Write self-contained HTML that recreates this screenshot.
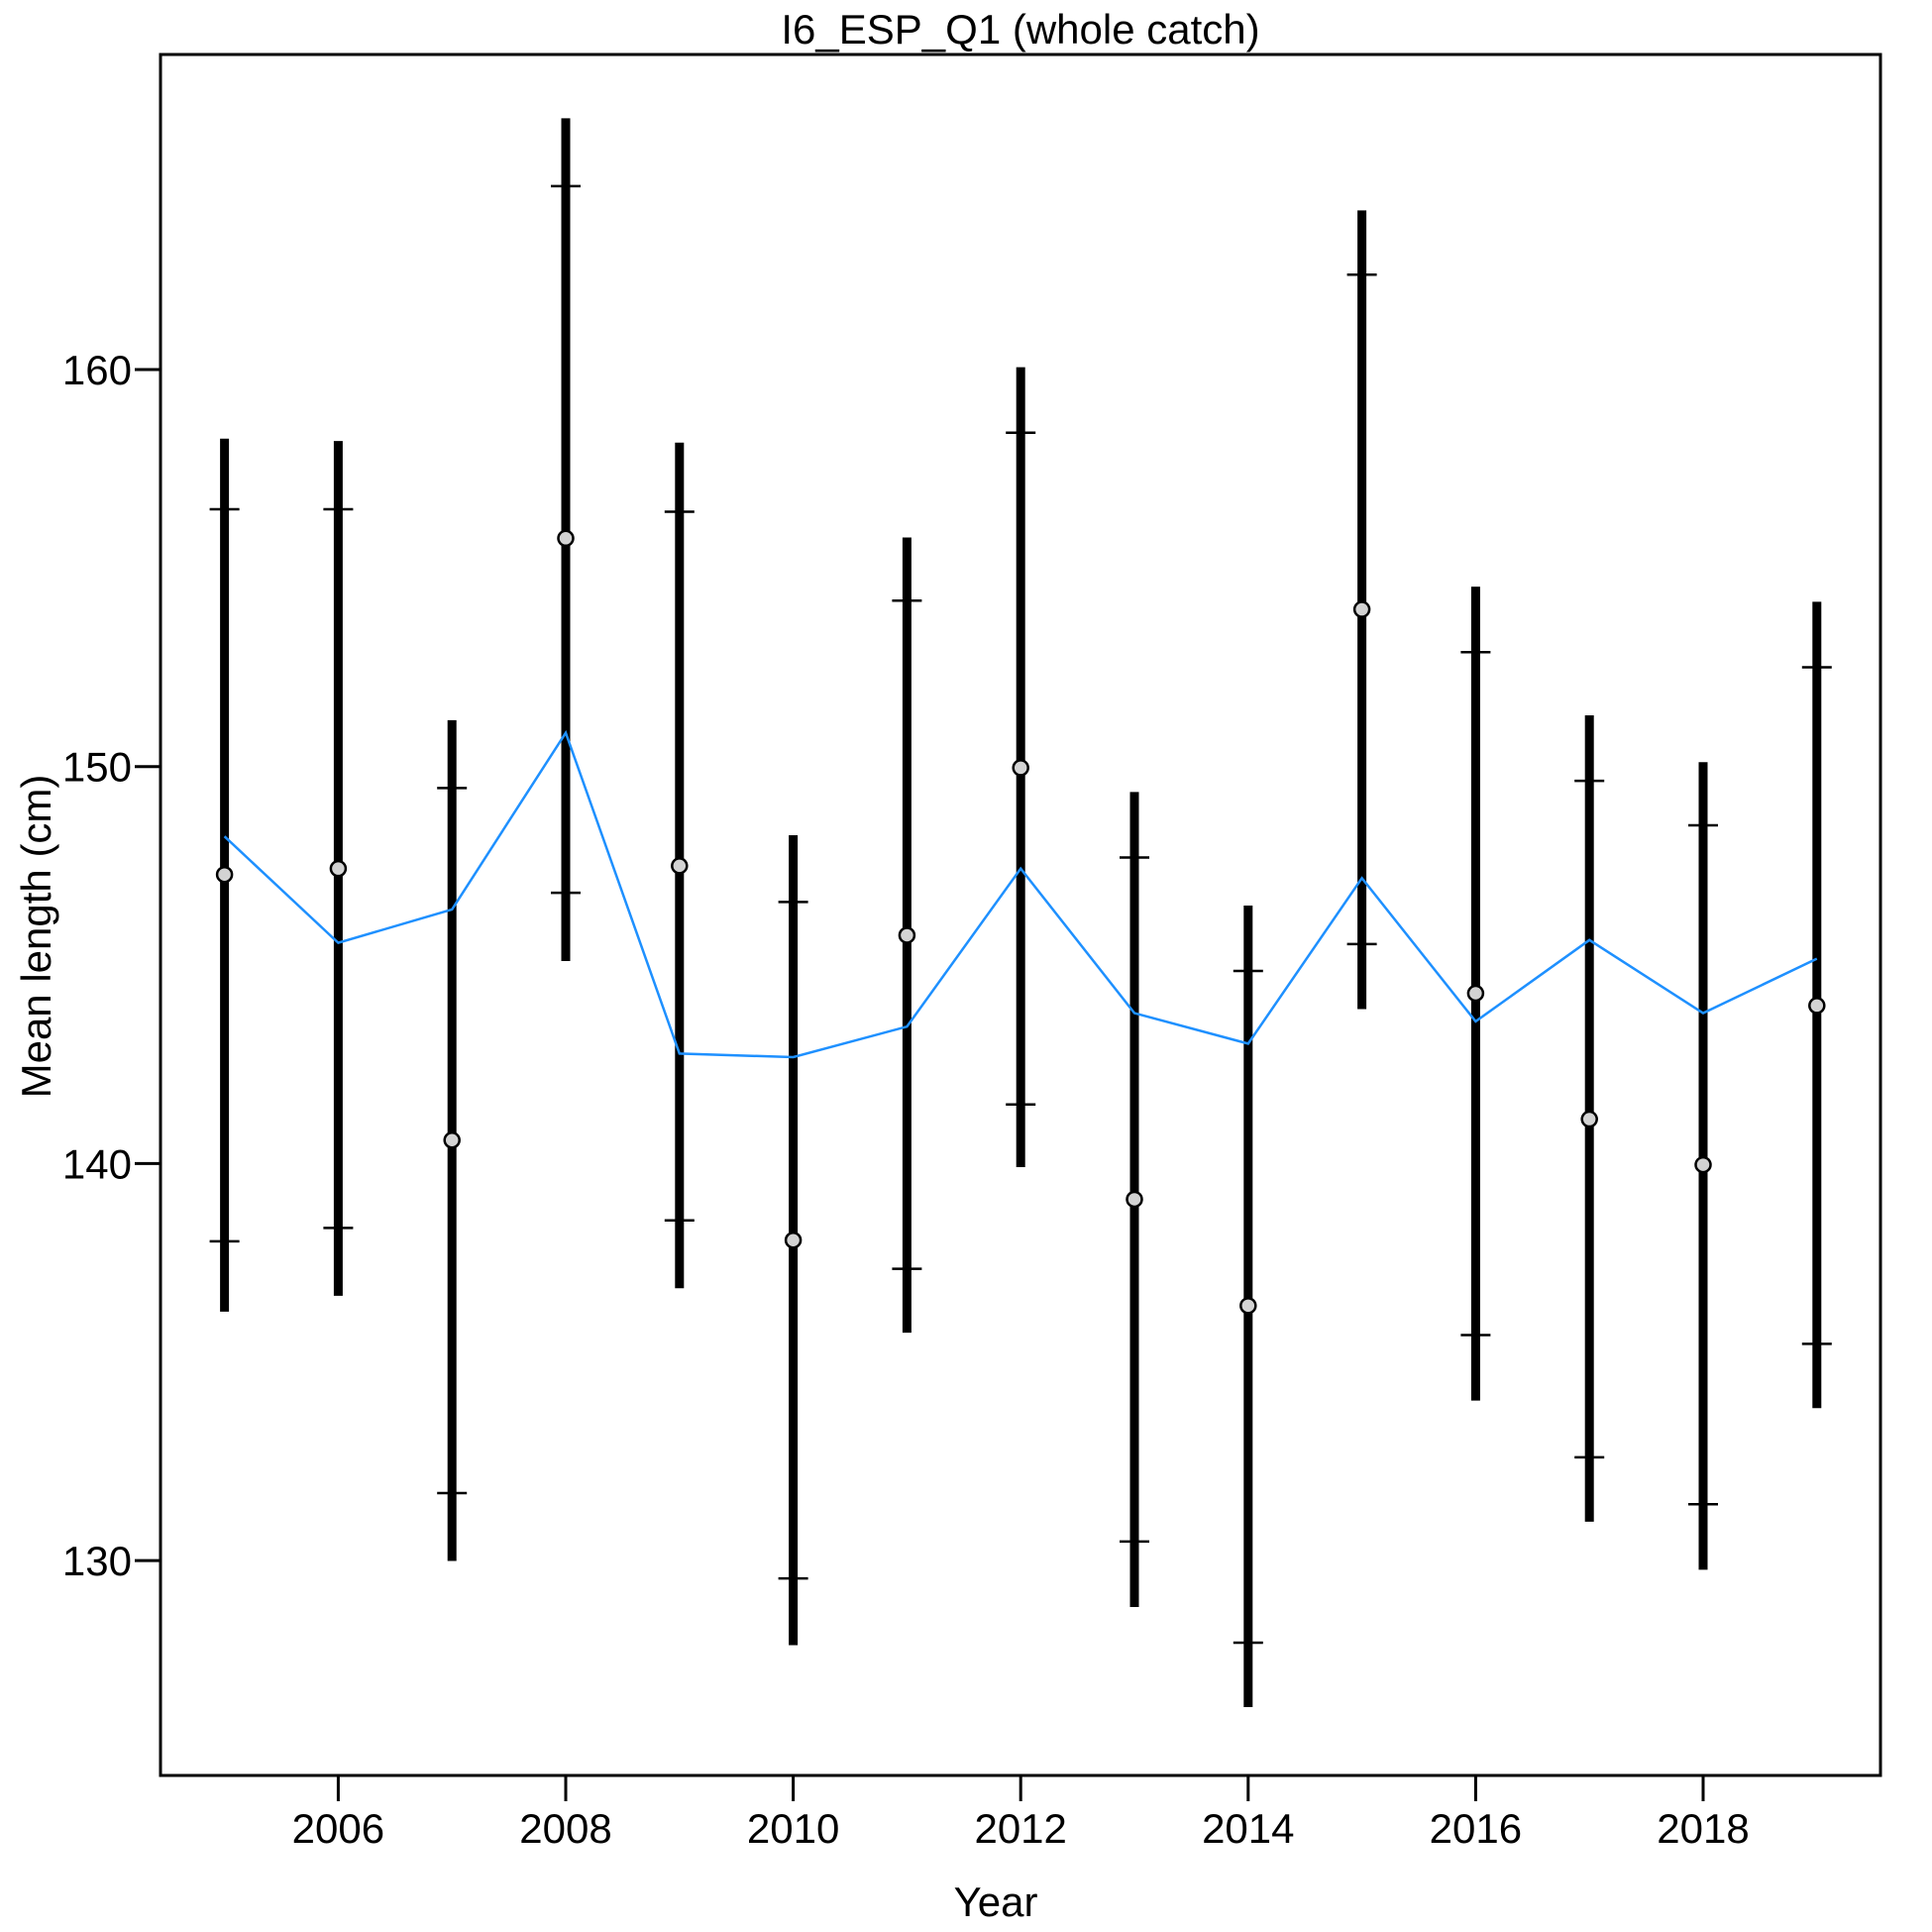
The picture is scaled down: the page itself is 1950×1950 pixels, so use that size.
<!DOCTYPE html>
<html><head><meta charset="utf-8"><style>
html,body{margin:0;padding:0;background:#fff;width:1950px;height:1950px;overflow:hidden}
svg{display:block;font-family:"Liberation Sans",Arial,sans-serif}
</style></head><body>
<svg id="chart" width="1950" height="1950" viewBox="0 0 1950 1950" xmlns="http://www.w3.org/2000/svg">
<rect x="0" y="0" width="1950" height="1950" fill="#fff"/>
<text x="1030" y="44" font-size="42" text-anchor="middle">I6_ESP_Q1 (whole catch)</text>
<text x="1005" y="1934" font-size="42" text-anchor="middle">Year</text>
<text x="0" y="0" font-size="42" text-anchor="middle" transform="translate(51,945) rotate(-90)">Mean length (cm)</text>
<g id="marks"></g>
<rect x="162" y="55" width="1736" height="1737" fill="none" stroke="#000" stroke-width="3"/>
</svg>
<script>
const years = [2005,2006,2007,2008,2009,2010,2011,2012,2013,2014,2015,2016,2017,2018,2019];
const outerHi = [158.26,158.20,151.17,166.33,158.16,148.27,155.77,160.06,149.36,146.50,164.01,154.53,151.29,150.11,154.15];
const innerHi = [156.48,156.48,149.46,164.62,156.42,146.59,154.18,158.41,147.71,144.85,162.39,152.88,149.64,148.52,152.50];
const observed = [147.28,147.43,140.59,155.75,147.50,138.07,145.75,149.97,139.10,136.42,153.96,144.29,141.12,139.97,143.98];
const innerLo = [138.04,138.38,131.70,146.82,138.57,129.55,137.35,141.49,130.48,127.93,145.53,135.68,132.60,131.42,135.46];
const outerLo = [136.27,136.67,129.99,145.10,136.86,127.87,135.74,139.91,128.83,126.31,143.89,134.03,130.98,129.77,133.84];
const expected = [148.24,145.56,146.40,150.85,142.77,142.68,143.45,147.43,143.79,143.02,147.19,143.58,145.63,143.79,145.16];
const xTicks = [2006,2008,2010,2012,2014,2016,2018];
const yTicks = [130,140,150,160];

const NS = "http://www.w3.org/2000/svg";
const X = v => 341.4 + (v - 2006) * 114.8;
const Y = v => 373 + (160 - v) * 40.07;
const svg = document.getElementById('chart');
const g = document.getElementById('marks');
function mk(tag, attrs, parent){
  const e = document.createElementNS(NS, tag);
  for (const k in attrs) e.setAttribute(k, attrs[k]);
  (parent||g).appendChild(e);
  return e;
}
// axes ticks
xTicks.forEach(t => {
  const l = mk('line', {x1:X(t), x2:X(t), y1:1792, y2:1818, stroke:'#000','stroke-width':3});
  
  
  const tx = mk('text', {x:X(t), y:1860, 'font-size':42, 'text-anchor':'middle'});
  
  
  tx.textContent = t;
});
yTicks.forEach(t => {
  const l = mk('line', {x1:136, x2:162, y1:Y(t), y2:Y(t), stroke:'#000','stroke-width':3});
  
  
  const tx = mk('text', {x:133, y:Y(t)+15, 'font-size':42, 'text-anchor':'end'});
  
  
  tx.textContent = t;
});
// error bars
years.forEach((yr, i) => {
  const x = X(yr);
  const b = mk('line', {x1:x, x2:x, y1:Y(outerHi[i]), y2:Y(outerLo[i]), stroke:'#000','stroke-width':9});
  
  
  [innerHi[i], innerLo[i]].forEach((v, j) => {
    const c = mk('line', {x1:x-15, x2:x+15, y1:Y(v), y2:Y(v), stroke:'#000','stroke-width':2.5});
    
    
  });
});
// expected line
const pl = mk('polyline', {points: years.map((yr,i)=>X(yr)+','+Y(expected[i])).join(' '), fill:'none', stroke:'#1e90ff','stroke-width':2.5});


// observed points
years.forEach((yr, i) => {
  const p = mk('circle', {cx:X(yr), cy:Y(observed[i]), r:7.5, fill:'#d3d3d3', stroke:'#000','stroke-width':2.5});
  
  
});
</script>
</body></html>
